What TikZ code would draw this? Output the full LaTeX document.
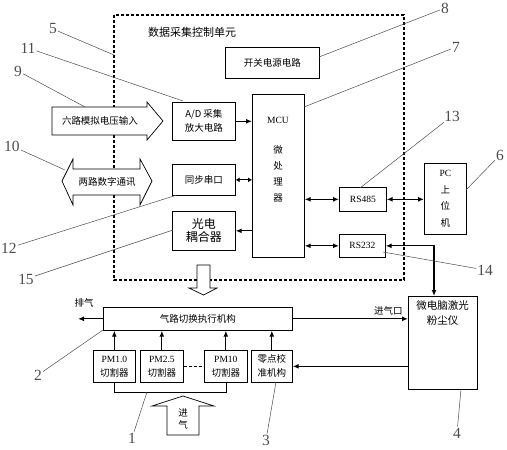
\documentclass[tikz,border=0pt]{standalone}
\usepackage{fontspec}
\setmainfont{Liberation Serif}
\newfontfamily\cjk{Noto Sans CJK SC}
\usetikzlibrary{arrows.meta,calc,positioning}

\tikzset{
  box/.style={draw,line width=0.7pt,inner sep=0pt,anchor=north west,align=center,
    font=\cjk\fontsize{9.5}{14}\selectfont},
  cn/.style={inner sep=0pt,align=center,font=\cjk\fontsize{9.5}{14}\selectfont},
  arr/.style={line width=1.2pt,-{Latex[length=6pt,width=5pt]}},
  darr/.style={line width=1.2pt,{Latex[length=6pt,width=5pt]}-{Latex[length=6pt,width=5pt]}},
  leader/.style={line width=0.5pt,black!70},
  num/.style={font=\fontsize{15.5}{15.5}\selectfont,text=black!70,inner sep=1pt},
  hollow/.style={draw,fill=white,line width=0.7pt,line join=miter},
}

\begin{document}
\begin{tikzpicture}[x=1pt,y=-1pt]
\useasboundingbox (0,0) rectangle (507,450);

% data acquisition and control unit
\draw[line width=1.1pt,dash pattern=on 3pt off 2pt] (114,15) rectangle (404,280);
\node[cn,font=\cjk\fontsize{11}{13}\selectfont] (title) at (192,32) {数据采集控制单元};

\node[box,minimum width=94pt,minimum height=31pt] (pwr) at (225,47) {开关电源电路};
\node[box,minimum width=52pt,minimum height=163pt] (mcu) at (252,94) {};
\node[inner sep=0pt,font=\fontsize{9.5}{12}\selectfont] (mcutxt) at (278,120) {MCU};
\node[cn,font=\cjk\fontsize{9.5}{16}\selectfont,anchor=north] (mcucn) at (278,145) {微\\处\\理\\器};
\node[box,minimum width=63pt,minimum height=38pt] (adc) at (172,102) {A/D 采集\\放大电路};
\node[box,minimum width=63pt,minimum height=31pt] (sync) at (172,164) {同步串口};
\node[box,minimum width=63pt,minimum height=39pt,font=\cjk\fontsize{12}{13}\selectfont] (opto) at (172,211) {光电\\耦合器};
\node[box,minimum width=47pt,minimum height=24pt,font=\fontsize{9.5}{12}\selectfont] (rs485) at (339,187) {RS485};
\node[box,minimum width=46pt,minimum height=23pt,font=\fontsize{9.5}{12}\selectfont] (rs232) at (339,234) {RS232};

% outside the unit
\node[box,minimum width=42pt,minimum height=71pt,font=\cjk\fontsize{9.5}{16.5}\selectfont] (pc) at (424,163) {{\rmfamily PC}\\上\\位\\机};
\node[box,minimum width=69pt,minimum height=93pt] (dust) at (408,296) {};
\node[cn,font=\cjk\fontsize{10.5}{15}\selectfont,anchor=north] (dusttxt) at (442.5,300) {微电脑激光\\粉尘仪};
\node[box,minimum width=189pt,minimum height=23pt] (valve) at (103,307) {气路切换执行机构};
\node[box,minimum width=42pt,minimum height=32pt] (pmone) at (93,350) {{\rmfamily PM1.0}\\切割器};
\node[box,minimum width=43pt,minimum height=32pt] (pmtwo) at (140,350) {{\rmfamily PM2.5}\\切割器};
\node[box,minimum width=43pt,minimum height=32pt] (pmten) at (204,350) {{\rmfamily PM10}\\切割器};
\node[box,minimum width=41pt,minimum height=32pt] (zero) at (251,350) {零点校\\准机构};

% signal arrows
\draw[arr] (adc.east) -- (mcu.west |- adc.east);
\draw[darr,{Latex[length=4pt,width=5pt]}-{Latex[length=4pt,width=5pt]}] (sync.east) -- (mcu.west |- sync.east);
\draw[arr] (mcu.west |- opto.east) -- (opto.east);
\draw[darr] (mcu.east |- rs485.west) -- (rs485.west);
\draw[darr] (rs485.east) -- (pc.west |- rs485.east);
\draw[darr] (mcu.east |- rs232.west) -- (rs232.west);
\draw[darr] (rs232.east) -| ([xshift=26pt]dust.north west);

% gas path
\draw[arr] (valve.east) -- (valve.east -| dust.west) node[cn,pos=0.83,above=3pt] (inlet) {进气口};
\draw[arr] (valve.west) -- ++(-25,0) coordinate (exh);
\node[cn] (exhtxt) at (84,303) {排气};
\foreach \c in {pmone,pmtwo,pmten,zero}
  \draw[arr] (\c.north) -- (\c.north |- valve.south);
\draw[arr] (dust.west |- zero.east) -- (zero.east);
\draw[line width=0.7pt,dash pattern=on 3pt off 2pt] (pmtwo.east) -- (pmten.west);
\draw[line width=0.7pt] (pmone.south) -- ++(0,10) coordinate (br) -| (pmten.south);

% hollow arrows
\draw[hollow] (52,107) -- (147,107) -- (147,102) -- (163,121) -- (147,140) -- (147,135) -- (52,135) -- cycle;
\node[cn] (ain) at (100,121) {六路模拟电压输入};
\draw[hollow] (62,181) -- (73,159) -- (73,169) -- (140,169) -- (140,159) -- (152,181) -- (140,205) -- (140,195) -- (73,195) -- (73,205) -- cycle;
\node[cn] (din) at (107,182) {两路数字通讯};
\draw[hollow] (197,265) -- (210,265) -- (210,288) -- (217,288) -- (203.5,295) -- (189,288) -- (197,288) -- cycle;
\draw[hollow] (167,435) -- (167,406) -- (152,406) -- (183,396) -- (214,406) -- (199,406) -- (199,435) -- cycle;
\node[cn,font=\cjk\fontsize{9.5}{12}\selectfont] (intake) at (183,419) {进\\气};

% part numbers
\node[num] (n5) at (53,29) {5};
\node[num] (n11) at (28,48) {11};
\node[num] (n9) at (18,71) {9};
\node[num] (n10) at (12,146) {10};
\node[num] (n12) at (9,248) {12};
\node[num] (n15) at (26,279) {15};
\node[num] (n8) at (445,8) {8};
\node[num] (n7) at (456,47) {7};
\node[num] (n13) at (452,116) {13};
\node[num] (n6) at (500,155) {6};
\node[num] (n14) at (485,270) {14};
\node[num] (n2) at (38,375) {2};
\node[num] (n1) at (132,438) {1};
\node[num] (n3) at (266,440) {3};
\node[num] (n4) at (457,433) {4};

\coordinate (t5) at (114,55);
\coordinate (t11) at (183,101);
\coordinate (t9) at (85,107);
\coordinate (t10) at (65,170);
\coordinate (t12) at (177,195);
\coordinate (t15) at (173,230);
\coordinate (t8) at (319,57);
\coordinate (t7) at (304,107);
\coordinate (t13) at (360,188);
\coordinate (t6) at (466,190);
\coordinate (t14) at (383,252);
\coordinate (t2) at (103,330);
\coordinate (t1) at (147,392);
\coordinate (t3) at (276,382);
\coordinate (t4) at (461,389);
\foreach \n in {5,11,9,10,12,15,8,7,13,6,14,2,1,3,4}
  \draw[leader] (n\n) -- (t\n);
\end{tikzpicture}
\end{document}
